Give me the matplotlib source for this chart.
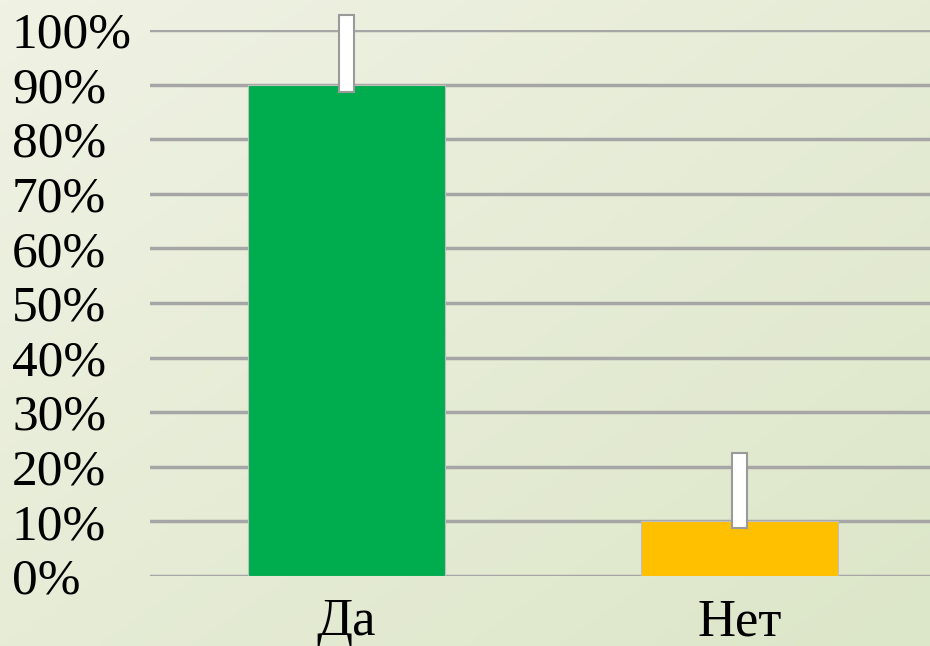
import numpy as np
import matplotlib
matplotlib.use("Agg")
import matplotlib.pyplot as plt
from matplotlib.colors import LinearSegmentedColormap

categories = ["Да", "Нет"]
values = [90, 10]
errors = [12.7, 12.5]
bar_colors = ["#00AD4E", "#FFC000"]
ytick_values = list(range(0, 101, 10))
ytick_labels = [f"{v}%" for v in ytick_values]

plt.rcParams["font.family"] = ["Liberation Serif", "DejaVu Serif"]

fig = plt.figure(figsize=(9.3, 6.46), dpi=100)

# light diagonal gradient background
bg = fig.add_axes([0, 0, 1, 1])
gx, gy = np.meshgrid(np.linspace(0, 1, 200), np.linspace(0, 1, 200))
grad = (gx + gy) / 2
cmap = LinearSegmentedColormap.from_list("bg", ["#F0F2E4", "#DCE6C8"])
bg.imshow(grad, cmap=cmap, aspect="auto", extent=[0, 1, 0, 1], origin="upper")
bg.axis("off")

ax = fig.add_axes([150 / 930, 1 - 576 / 646, 786 / 930, 546 / 646])
ax.set_facecolor("none")
x = np.arange(len(categories))
ax.bar(x, values, width=0.5, color=bar_colors, edgecolor="#BFBFBF", linewidth=0.8, zorder=3)

# white error "whiskers" drawn as thin outlined bars
for xi, v, e in zip(x, values, errors):
    ax.bar(xi, e + 1.3, bottom=v - 1.3, width=0.04, color="white",
           edgecolor="#9A9A9A", linewidth=1.5, zorder=4, clip_on=False)

ax.set_xlim(-0.5, 1.5)
ax.set_ylim(0, 100)
ax.set_yticks(ytick_values)
ax.set_yticklabels(ytick_labels, fontsize=37, ha="left")
ax.set_xticks(x)
ax.set_xticklabels(categories, fontsize=38)
ax.tick_params(axis="y", length=0, pad=(150 - 12) * 0.72)
ax.tick_params(axis="x", length=0, pad=16)
ax.grid(axis="y", color="#A6A6A6", linewidth=2.5, zorder=1)
for s in ax.spines.values():
    s.set_visible(False)

fig.savefig("out.png", dpi=100)
